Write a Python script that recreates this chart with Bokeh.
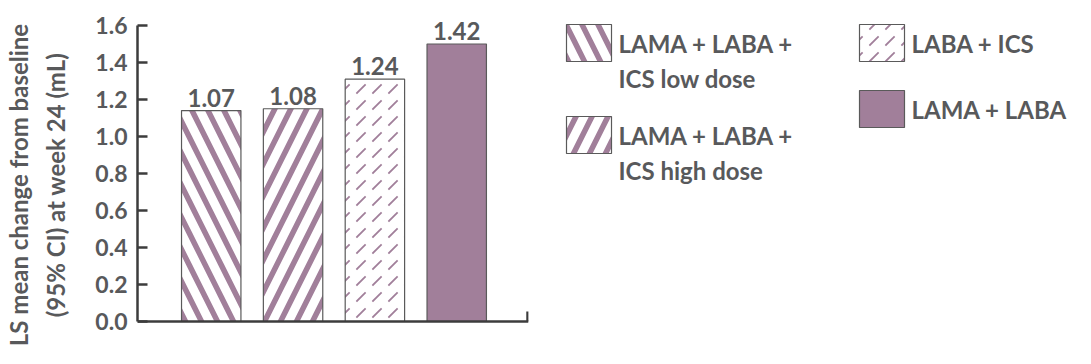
from bokeh.plotting import figure
from bokeh.models import Range1d, FixedTicker, NumeralTickFormatter, ColumnDataSource, Span
from bokeh.layouts import row
from bokeh.embed import file_html
from bokeh.resources import INLINE
from bokeh.core.properties import value

# ---- data ----
categories = ["LAMA + LABA +\nICS low dose", "LAMA + LABA +\nICS high dose", "LABA + ICS", "LAMA + LABA"]
value_labels = ["1.07", "1.08", "1.24", "1.42"]
bar_heights = [1.14, 1.15, 1.31, 1.50]          # drawn heights as they appear on the axis
y_ticks = [0.0, 0.2, 0.4, 0.6, 0.8, 1.0, 1.2, 1.4, 1.6]
y_title = "LS mean change from baseline\n(95% CI) at week 24 (mL)"

# ---- styles ----
PURPLE = "#a17f9a"
GREY_TXT = "#58595b"
AXIS = "#3c3c3c"
FONT = "Lato"
fill_colors = ["white", "white", "white", PURPLE]
hatch_patterns = ["\\", "/", ",", " "]
hatch_scales = [32, 32, 16, 12]
hatch_weights = [5.5, 5.5, 1.8, 1]

PX = 185.0  # pixels per data unit on the y axis
TOP = 5     # frame top offset shared by both panels of the row
xs = list(range(len(categories)))
src = ColumnDataSource(dict(x=xs, top=bar_heights, label=value_labels, fill=fill_colors,
                            hatch=hatch_patterns, hs=hatch_scales, hw=hatch_weights))

XR = Range1d(-0.901, 3.877)
YR = Range1d(-43 / PX, (321 - TOP) / PX)
p = figure(width=545, height=364, x_range=XR, y_range=YR,
           output_backend="svg", toolbar_location=None, x_axis_location=None,
           min_border_left=133, min_border_right=17, min_border_top=TOP, min_border_bottom=0)
p.background_fill_color = "white"
p.border_fill_color = "white"
p.outline_line_color = None
p.grid.visible = False

p.vbar(x="x", top="top", bottom=0, width=0.726, source=src, fill_color="fill", line_color="#5a5a5a",
       line_width=1.2, hatch_pattern="hatch", hatch_color=PURPLE, hatch_scale="hs", hatch_weight="hw")
p.text(x="x", y="top", text="label", source=src, text_align="center", text_baseline="bottom",
       y_offset=-4, text_font=value(FONT), text_font_style="bold", text_font_size="24px",
       text_color=GREY_TXT)

ya = p.yaxis[0]
ya.ticker = FixedTicker(ticks=y_ticks)
ya.formatter = NumeralTickFormatter(format="0.0")
ya.bounds = (0, 1.6)
ya.major_tick_in = 10
ya.major_tick_out = 0
ya.minor_tick_line_color = None
ya.axis_line_width = 2.5
ya.axis_line_color = AXIS
ya.major_tick_line_width = 2.5
ya.major_tick_line_color = AXIS
ya.major_label_standoff = 10
ya.major_label_text_font = FONT
ya.major_label_text_font_style = "bold"
ya.major_label_text_font_size = "23px"
ya.major_label_text_color = GREY_TXT
ya.axis_label = y_title
ya.axis_label_text_font = FONT
ya.axis_label_text_font_style = "bold"
ya.axis_label_text_font_size = "24px"
ya.axis_label_text_color = GREY_TXT
ya.axis_label_text_line_height = 1.3
ya.axis_label_standoff = 22

# x axis line at y = 0 with a small upward tick at its right end
p.add_layout(Span(location=0, dimension="width", line_color=AXIS, line_width=2.5))
x_end = XR.end - 0.012
p.segment(x0=[x_end], y0=[0], x1=[x_end], y1=[10 / PX], line_color=AXIS, line_width=2.5)

# ---- legend drawn in its own panel, page-pixel coordinates ----
L = figure(width=546, height=364, x_range=Range1d(545, 1091), y_range=Range1d(364, TOP),
           output_backend="svg", toolbar_location=None, x_axis_location=None, y_axis_location=None,
           min_border=0, min_border_top=TOP)
L.outline_line_color = None
L.grid.visible = False
L.background_fill_color = "white"
L.border_fill_color = "white"

legend_cols = [0, 0, 1, 1]
col_x = [566, 859]
SW_W, SW_H, LINE_H = 45, 37, 35
col_y = [24, 24]
sw = dict(x=[], y=[], fill=[], hatch=[], hs=[], hw=[])
tx = dict(x=[], y=[], text=[])
for i, cat in enumerate(categories):
    c = legend_cols[i]
    x0, y0 = col_x[c], col_y[c]
    sw["x"].append(x0 + SW_W / 2)
    sw["y"].append(y0 + SW_H / 2)
    sw["fill"].append(fill_colors[i])
    sw["hatch"].append(hatch_patterns[i])
    sw["hs"].append(hatch_scales[i])
    sw["hw"].append(hatch_weights[i])
    lines = cat.split("\n")
    for j, ln in enumerate(lines):
        tx["x"].append(x0 + SW_W + 7)
        tx["y"].append(y0 + SW_H / 2 + j * LINE_H)
        tx["text"].append(ln)
    col_y[c] = y0 + 66 + (len(lines) - 1) * 26

L.rect(x="x", y="y", width=SW_W, height=SW_H, source=ColumnDataSource(sw), fill_color="fill",
       line_color="#5a5a5a", line_width=1.2, hatch_pattern="hatch", hatch_color=PURPLE,
       hatch_scale="hs", hatch_weight="hw")
L.text(x="x", y="y", text="text", source=ColumnDataSource(tx), text_align="left",
       text_baseline="middle", text_font=value(FONT), text_font_style="bold",
       text_font_size="24px", text_color=GREY_TXT)

layout = row(p, L, spacing=0)
open("out.html", "w").write(file_html(layout, INLINE))
